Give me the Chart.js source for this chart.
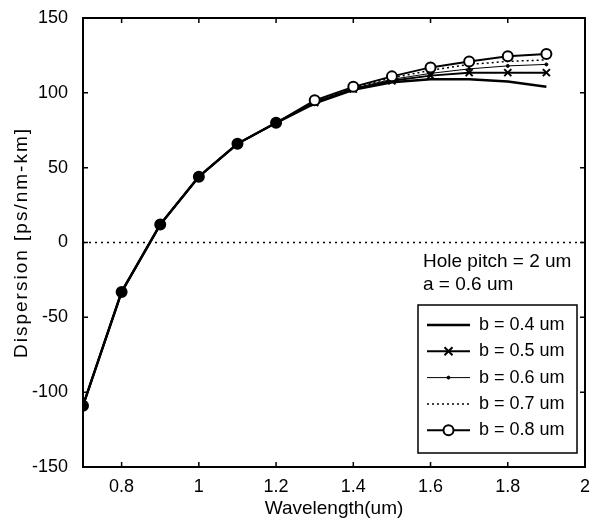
<!DOCTYPE html>
<html><head><meta charset="utf-8">
<script src="https://cdn.jsdelivr.net/npm/chart.js@4/dist/chart.umd.min.js"></script>
<style>html,body{margin:0;padding:0;background:#fff}#wrap{width:592px;height:520px}</style>
</head><body><div id="wrap"><canvas id="c" width="592" height="520"></canvas></div>
<script>
const wavelengths = [0.7,0.8,0.9,1.0,1.1,1.2,1.3,1.4,1.5,1.6,1.7,1.8,1.9];
const b04 = [-109,-33,12,44,66,80,93,102,107,109,109,107.5,104];
const b05 = [-109,-33,12,44,66,80,93.5,102.5,108,111.5,113.5,113.5,113.5];
const b06 = [-109,-33,12,44,66,80,94,103,109,113,116,118,119];
const b07 = [-109,-33,12,44,66,80,94.5,103.5,110,115,119,121,122];
const b08 = [-109,-33,12,44,66,80,95,104,111,117,121,124.5,126];
const seriesLabels = ['b = 0.4 um','b = 0.5 um','b = 0.6 um','b = 0.7 um','b = 0.8 um'];
const xTicks = [0.8,1.0,1.2,1.4,1.6,1.8,2.0];
const yTicks = [-150,-100,-50,0,50,100,150];
const zeroLineX = [0.7, 2.0];
const zeroLineY = [0, 0];
const annotations = ['Hole pitch = 2 um','a = 0.6 um'];

const FONT = '"Liberation Sans", Arial, Helvetica, sans-serif';
const pts = ys => wavelengths.map((x,i)=>({x, y: ys[i]}));

const styles = [
  {borderWidth:2.5, pointRadius:0, borderDash:[]},
  {borderWidth:2, pointStyle:'crossRot', pointRadius:5, pointBorderWidth:2, borderDash:[]},
  {borderWidth:1, pointStyle:'circle', pointRadius:1.5, pointBorderWidth:1, pointBackgroundColor:'#000', borderDash:[]},
  {borderWidth:1.5, pointRadius:0, borderDash:[2,3]},
  {borderWidth:2, pointStyle:'circle', pointRadius:5, pointBorderWidth:2, borderDash:[]}
];
const seriesData = [b04,b05,b06,b07,b08];

const datasets = seriesData.map((d,i)=>Object.assign({
  label: seriesLabels[i],
  data: pts(d),
  borderColor:'#000',
  pointBorderColor:'#000',
  pointBackgroundColor:'#fff',
  fill:false,
  tension:0,
  order: i===4 ? -1 : i
}, styles[i]));
datasets[4].pointBackgroundColor = c => (c.raw && c.raw.x < 1.25) ? '#000' : '#fff';
datasets.push({
  label:'zero',
  data: zeroLineX.map((x,i)=>({x, y: zeroLineY[i]})),
  borderColor:'#000', borderWidth:1.5, borderDash:[2,4], pointRadius:0, fill:false, order:10
});

function drawMarker(ctx, st, x, y){
  if(!st.pointRadius) return;
  ctx.save();
  ctx.setLineDash([]);
  ctx.lineWidth = st.pointBorderWidth || 1;
  ctx.strokeStyle = '#000';
  const r = st.pointRadius;
  if(st.pointStyle === 'crossRot'){
    ctx.beginPath();
    ctx.moveTo(x-r*0.8,y-r*0.8); ctx.lineTo(x+r*0.8,y+r*0.8);
    ctx.moveTo(x+r*0.8,y-r*0.8); ctx.lineTo(x-r*0.8,y+r*0.8);
    ctx.stroke();
  } else {
    ctx.beginPath(); ctx.arc(x,y,r,0,Math.PI*2);
    ctx.fillStyle = (typeof st.pointBackgroundColor === 'string') ? st.pointBackgroundColor : '#fff';
    ctx.fill(); ctx.stroke();
  }
  ctx.restore();
}

const spacingPlugin = {
  id:'titleSpacing',
  beforeDraw(chart){
    const s = chart.scales.y;
    if (s && !s._spacedTitle) {
      const orig = s.drawTitle.bind(s);
      s.drawTitle = function(){
        const ctx = this.ctx;
        const prev = ctx.letterSpacing;
        ctx.letterSpacing = '2px';
        orig();
        ctx.letterSpacing = prev || '0px';
      };
      s._spacedTitle = true;
    }
  }
};

const framePlugin = {
  id:'frame',
  afterDatasetsDraw(chart){
    const {ctx, chartArea:a, scales:{x, y}} = chart;
    ctx.save();
    ctx.strokeStyle = '#000';
    ctx.lineWidth = 2;
    ctx.setLineDash([]);
    ctx.strokeRect(a.left, a.top, a.right-a.left, a.bottom-a.top);
    ctx.lineWidth = 1.5;
    const tl = 5;
    ctx.beginPath();
    xTicks.forEach(v=>{
      const px = x.getPixelForValue(v);
      ctx.moveTo(px, a.bottom); ctx.lineTo(px, a.bottom-tl);
      ctx.moveTo(px, a.top); ctx.lineTo(px, a.top+tl);
    });
    yTicks.forEach(v=>{
      const py = y.getPixelForValue(v);
      ctx.moveTo(a.left, py); ctx.lineTo(a.left+tl, py);
      ctx.moveTo(a.right, py); ctx.lineTo(a.right-tl, py);
    });
    ctx.stroke();

    // annotation text
    ctx.fillStyle = '#000';
    ctx.font = '19px ' + FONT;
    ctx.textBaseline = 'middle';
    ctx.textAlign = 'left';
    const ax = a.left + 340;
    ctx.fillText(annotations[0], ax, a.top + 244);
    ctx.fillText(annotations[1], ax, a.top + 267);

    // legend box
    const bx = a.left + 335, by = a.top + 287, bw = 159, bh = 148;
    ctx.fillStyle = '#fff';
    ctx.fillRect(bx, by, bw, bh);
    ctx.lineWidth = 1.5;
    ctx.strokeStyle = '#000';
    ctx.strokeRect(bx, by, bw, bh);
    ctx.font = '18px ' + FONT;
    seriesLabels.forEach((lab,i)=>{
      const st = styles[i];
      const ly = by + 20 + i*26.3;
      const x0 = bx + 9, x1 = bx + 52;
      ctx.save();
      ctx.lineWidth = st.borderWidth;
      ctx.setLineDash(st.borderDash || []);
      ctx.beginPath(); ctx.moveTo(x0, ly); ctx.lineTo(x1, ly); ctx.stroke();
      ctx.restore();
      drawMarker(ctx, st, (x0+x1)/2, ly);
      ctx.fillStyle = '#000';
      ctx.fillText(lab, bx + 61, ly);
    });
    ctx.restore();
  }
};

new Chart(document.getElementById('c'), {
  type:'line',
  data:{datasets},
  options:{
    responsive:false,
    animation:false,
    events:[],
    layout:{padding:{top:18, right:2, left:0, bottom:0}},
    plugins:{legend:{display:false}, tooltip:{enabled:false}},
    scales:{
      x:{
        type:'linear', min:0.7, max:2.0,
        afterBuildTicks: s => { s.ticks = xTicks.map(v=>({value:v})); },
        afterFit: s => { s.height = 53; s.paddingLeft = 0; s.paddingRight = 0; },
        grid:{display:false},
        border:{display:false},
        ticks:{font:{family:FONT, size:18}, color:'#000', padding:1, maxRotation:0, autoSkip:false,
               callback: v => String(Math.round(v*10)/10)},
        title:{display:true, text:'Wavelength(um)', font:{family:FONT, size:19}, color:'#000', padding:{top:0, bottom:0}}
      },
      y:{
        type:'linear', min:-150, max:150,
        afterBuildTicks: s => { s.ticks = yTicks.map(v=>({value:v})); },
        afterFit: s => { s.width = 83; s.paddingTop = 0; s.paddingBottom = 0; },
        grid:{display:false},
        border:{display:false},
        ticks:{font:{family:FONT, size:18}, color:'#000', padding:7, callback: v => String(v)},
        title:{display:true, text:'Dispersion [ps/nm-km]', font:{family:FONT, size:19}, color:'#000', padding:{top:10, bottom:0}}
      }
    }
  },
  plugins:[spacingPlugin, framePlugin]
});
</script>
</body></html>
